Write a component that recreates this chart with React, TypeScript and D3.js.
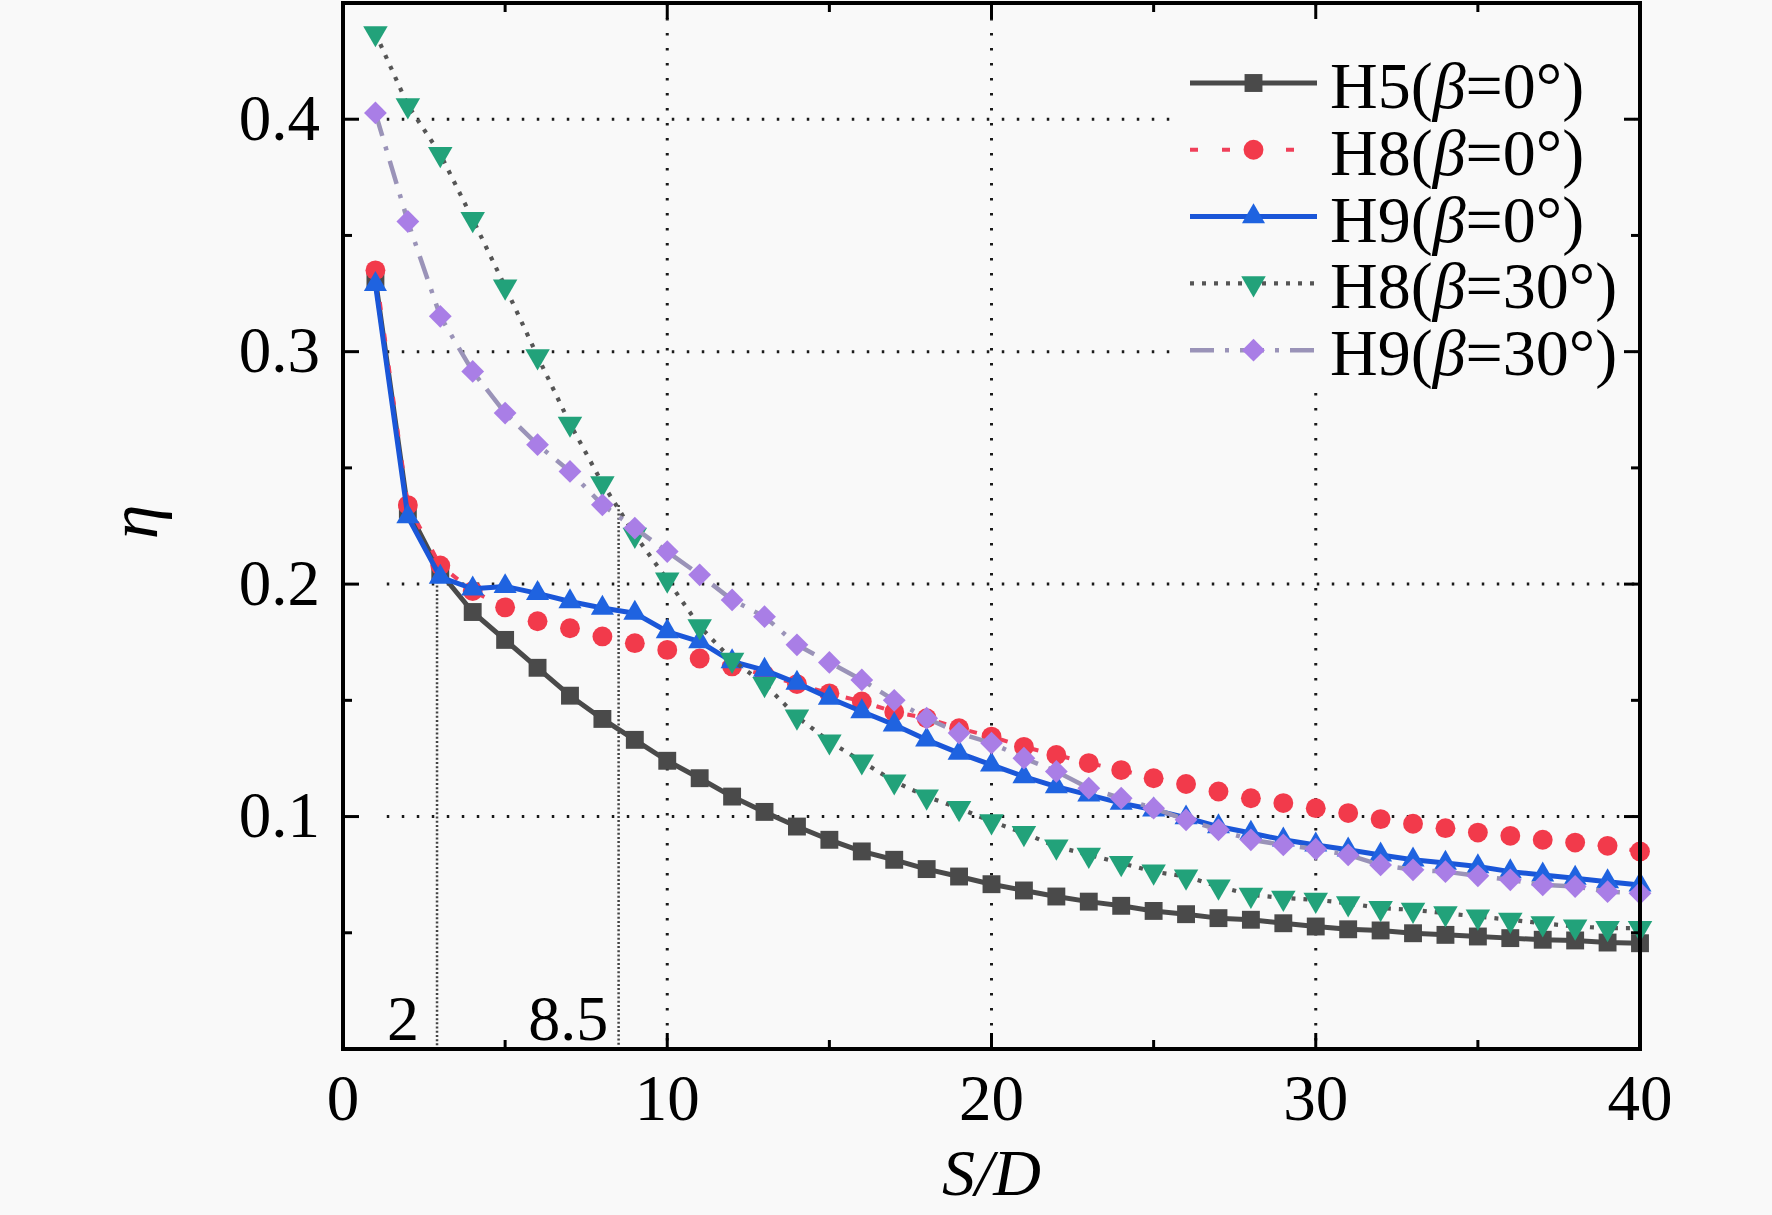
import * as d3 from "d3";
import React from "react";

// S/D positions
const SD = [1, 2, 3, 4, 5, 6, 7, 8, 9, 10, 11, 12, 13, 14, 15, 16, 17, 18, 19, 20,
  21, 22, 23, 24, 25, 26, 27, 28, 29, 30, 31, 32, 33, 34, 35, 36, 37, 38, 39, 40];

// eta values
const H5_b0 = [0.331, 0.232, 0.205, 0.188, 0.176, 0.164, 0.152, 0.142, 0.133, 0.124,
  0.1165, 0.1086, 0.102, 0.0957, 0.090, 0.085, 0.0814, 0.0774, 0.0742, 0.0709,
  0.0682, 0.0656, 0.0634, 0.0616, 0.0594, 0.058, 0.0563, 0.0556, 0.0541, 0.0527,
  0.0515, 0.051, 0.0498, 0.0491, 0.0484, 0.0477, 0.047, 0.0467, 0.0458, 0.0455];
const H8_b0 = [0.335, 0.234, 0.208, 0.197, 0.190, 0.184, 0.181, 0.1775, 0.1746, 0.1717,
  0.168, 0.1646, 0.161, 0.157, 0.153, 0.1495, 0.145, 0.1423, 0.138, 0.1344,
  0.130, 0.1265, 0.123, 0.120, 0.1165, 0.114, 0.1108, 0.1079, 0.1058, 0.1036,
  0.1015, 0.0989, 0.0969, 0.095, 0.0931, 0.0917, 0.090, 0.0888, 0.0874, 0.085];
const H9_b0 = [0.329, 0.229, 0.203, 0.198, 0.199, 0.196, 0.1925, 0.1897, 0.1875, 0.1796,
  0.1753, 0.1667, 0.163, 0.1574, 0.151, 0.1452, 0.1395, 0.133, 0.1273, 0.1222,
  0.1172, 0.1129, 0.1093, 0.1058, 0.1029, 0.0995, 0.0957, 0.0929, 0.090, 0.0878,
  0.0857, 0.0835, 0.0814, 0.080, 0.0785, 0.0763, 0.0749, 0.0735, 0.072, 0.0706];
const H8_b30 = [0.437, 0.406, 0.385, 0.357, 0.328, 0.298, 0.269, 0.2434, 0.2212, 0.2019,
  0.1818, 0.1674, 0.157, 0.143, 0.1323, 0.1237, 0.1151, 0.1086, 0.1036, 0.0979,
  0.0929, 0.0871, 0.0835, 0.080, 0.0763, 0.0742, 0.0699, 0.0663, 0.065, 0.0642,
  0.0627, 0.0606, 0.0599, 0.0584, 0.057, 0.0556, 0.0541, 0.0527, 0.052, 0.052];
const H9_b30 = [0.4027, 0.356, 0.3152, 0.2915, 0.2736, 0.26, 0.2485, 0.2341, 0.2241, 0.214,
  0.204, 0.1932, 0.186, 0.1739, 0.1663, 0.1588, 0.150, 0.1423, 0.1359, 0.1316,
  0.1251, 0.1194, 0.1122, 0.1079, 0.1036, 0.0986, 0.0943, 0.090, 0.0878, 0.086,
  0.0835, 0.0792, 0.0771, 0.0763, 0.0745, 0.0728, 0.0706, 0.0699, 0.0677, 0.067];

const xMajor = [0, 10, 20, 30, 40];
const xMinor = [5, 15, 25, 35];
const yMajor = [0.1, 0.2, 0.3, 0.4];
const yMinor = [0.05, 0.15, 0.25, 0.35];

// reference marks drawn on the plot
const markLines = [
  { x: 2.9, top: 0.203, label: "2", labelX: 1.85 },
  { x: 8.5, top: 0.234, label: "8.5", labelX: 6.95 },
];

const BG = "#f9f9f9";
const FONT = "'Liberation Serif', 'Times New Roman', serif";

const W = 1772;
const H = 1215;
const plot = { left: 343, right: 1640, top: 3, bottom: 1049 };

type Series = {
  name: string;
  beta: string;
  values: number[];
  marker: string;
  lineColor: string;
  lineWidth: number;
  dash: string | null;
  symbol: d3.SymbolType;
  size: number;
  rotate: number;
};

const series: Series[] = [
  { name: "H5", beta: "0°", values: H5_b0, marker: "#4a4a4a", lineColor: "#4a4a4a", lineWidth: 5, dash: null, symbol: d3.symbolSquare, size: 320, rotate: 0 },
  { name: "H8", beta: "0°", values: H8_b0, marker: "#f23a4b", lineColor: "#f0405a", lineWidth: 4, dash: "8 24", symbol: d3.symbolCircle, size: 310, rotate: 0 },
  { name: "H9", beta: "0°", values: H9_b0, marker: "#1f63e0", lineColor: "#1a56d8", lineWidth: 5, dash: null, symbol: d3.symbolTriangle, size: 230, rotate: 0 },
  { name: "H8", beta: "30°", values: H8_b30, marker: "#22a27a", lineColor: "#555555", lineWidth: 4.2, dash: "4 8", symbol: d3.symbolTriangle, size: 260, rotate: 180 },
  { name: "H9", beta: "30°", values: H9_b30, marker: "#a97ee6", lineColor: "#9a93b8", lineWidth: 4.5, dash: "24 11 4 11", symbol: d3.symbolSquare, size: 260, rotate: 45 },
];

const x = d3.scaleLinear().domain([0, 40]).range([plot.left, plot.right]);
const y = d3.scaleLinear().domain([0, 0.45]).range([plot.bottom, plot.top]);

const gridStyle = { stroke: "#1a1a1a", strokeWidth: 3, strokeDasharray: "2.5 12.5", fill: "none" };

const legend = { x0: 1178, y0: 18, x1: 1634, y1: 392, lineX0: 1190, lineX1: 1317, textX: 1330, rowY: 83, rowGap: 66.8 };

function Marker({ s, cx, cy }: { s: Series; cx: number; cy: number }) {
  const d = d3.symbol().type(s.symbol).size(s.size)() as string;
  return <path d={d} transform={`translate(${cx},${cy}) rotate(${s.rotate})`} fill={s.marker} />;
}

function Ticks() {
  const maj = 16;
  const min = 9;
  const out: React.ReactNode[] = [];
  xMajor.concat(xMinor).forEach((v, i) => {
    const len = xMajor.includes(v) ? maj : min;
    out.push(<line key={`b${i}`} x1={x(v)} x2={x(v)} y1={plot.bottom} y2={plot.bottom - len} stroke="#000" strokeWidth={3} />);
    out.push(<line key={`t${i}`} x1={x(v)} x2={x(v)} y1={plot.top} y2={plot.top + len} stroke="#000" strokeWidth={3} />);
  });
  yMajor.concat(yMinor).forEach((v, i) => {
    const len = yMajor.includes(v) ? maj : min;
    out.push(<line key={`l${i}`} x1={plot.left} x2={plot.left + len} y1={y(v)} y2={y(v)} stroke="#000" strokeWidth={3} />);
    out.push(<line key={`r${i}`} x1={plot.right} x2={plot.right - len} y1={y(v)} y2={y(v)} stroke="#000" strokeWidth={3} />);
  });
  return <g>{out}</g>;
}

export default function App() {
  const line = d3.line<number>().x((_, i) => x(SD[i])).y((v) => y(v));

  return (
    <div style={{ position: "fixed", left: 0, top: 0, width: W, height: H, background: BG }}>
      <svg width={W} height={H} style={{ display: "block", fontFamily: FONT }}>
        <rect x={0} y={0} width={W} height={H} fill={BG} />

        {/* grid */}
        {yMajor.map((v) => (
          <line key={`gy${v}`} x1={x(1.35)} x2={plot.right} y1={y(v)} y2={y(v)} style={gridStyle} />
        ))}
        {[10, 20, 30].map((v) => (
          <line key={`gx${v}`} x1={x(v)} x2={x(v)} y1={plot.top} y2={plot.bottom} style={gridStyle} />
        ))}

        {/* reference lines */}
        {markLines.map((m) => (
          <g key={m.label}>
            <line x1={x(m.x)} x2={x(m.x)} y1={y(m.top)} y2={plot.bottom} stroke="#444" strokeWidth={2.5} strokeDasharray="2 2.2" />
            <text x={x(m.labelX)} y={plot.bottom - 9} fontSize={64} textAnchor="middle" fill="#000">{m.label}</text>
          </g>
        ))}

        {/* series */}
        {series.map((s, k) => (
          <g key={k}>
            <path d={line(s.values) as string} fill="none" stroke={s.lineColor} strokeWidth={s.lineWidth}
              strokeDasharray={s.dash ?? undefined} strokeLinejoin="round" />
            {s.values.map((v, i) => (
              <Marker key={i} s={s} cx={x(SD[i])} cy={y(v)} />
            ))}
          </g>
        ))}

        {/* legend */}
        <rect x={legend.x0} y={legend.y0} width={legend.x1 - legend.x0} height={legend.y1 - legend.y0} fill={BG} />
        {series.map((s, k) => {
          const ly = legend.rowY + k * legend.rowGap;
          return (
            <g key={`lg${k}`}>
              <line x1={legend.lineX0} x2={legend.lineX1} y1={ly} y2={ly} stroke={s.lineColor} strokeWidth={s.lineWidth}
                strokeDasharray={s.dash ?? undefined} />
              <Marker s={s} cx={(legend.lineX0 + legend.lineX1) / 2} cy={ly} />
              <text x={legend.textX} y={ly + 25} fontSize={66} fill="#000">
                {s.name}(<tspan fontStyle="italic">β</tspan>={s.beta})
              </text>
            </g>
          );
        })}

        {/* frame and ticks */}
        <rect x={plot.left} y={plot.top} width={plot.right - plot.left} height={plot.bottom - plot.top}
          fill="none" stroke="#000" strokeWidth={4} />
        <Ticks />

        {/* tick labels */}
        {xMajor.map((v) => (
          <text key={`xl${v}`} x={x(v)} y={1120} fontSize={65} textAnchor="middle" fill="#000">{v}</text>
        ))}
        {yMajor.map((v) => (
          <text key={`yl${v}`} x={320} y={y(v)} dy="0.32em" fontSize={65} textAnchor="end" fill="#000">{d3.format(".1f")(v)}</text>
        ))}

        {/* axis titles */}
        <text x={x(20)} y={1195} fontSize={66} textAnchor="middle" fill="#000" fontStyle="italic">S/D</text>
        <text transform="translate(157,522) rotate(-90)" fontSize={70} textAnchor="middle" fill="#000" fontStyle="italic">η</text>
      </svg>
    </div>
  );
}
